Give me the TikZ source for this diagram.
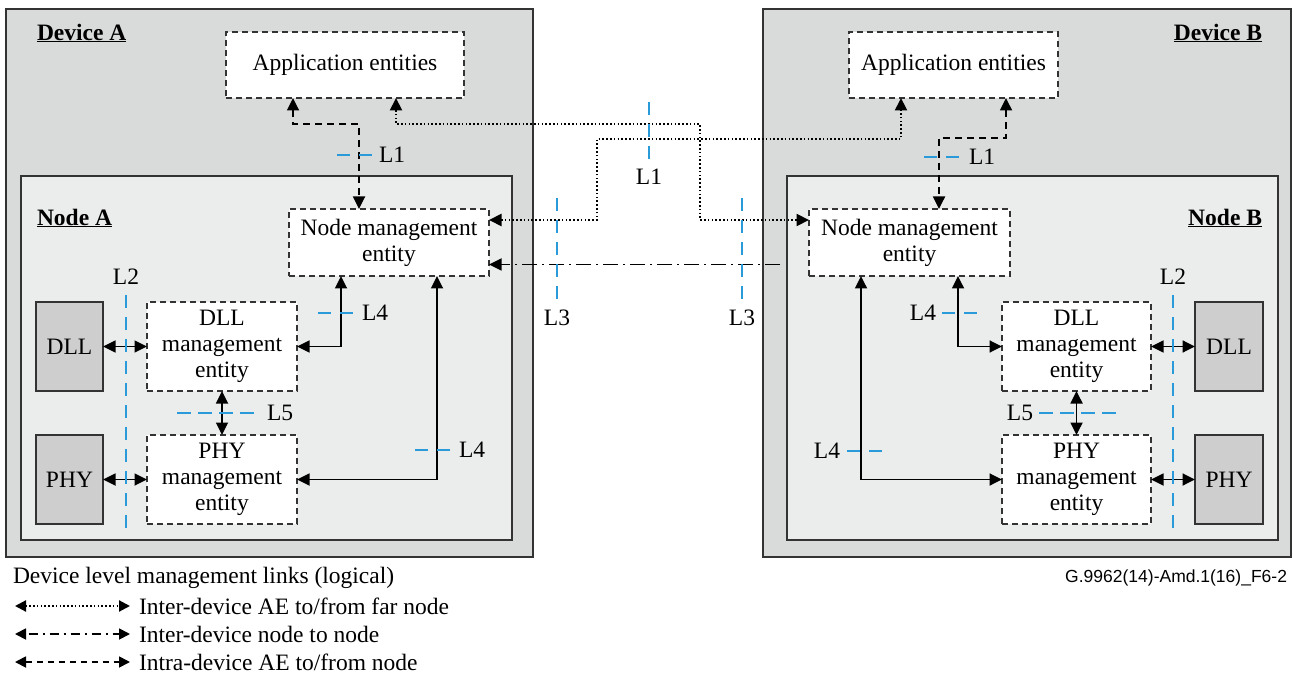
\documentclass[tikz,border=0pt]{standalone}
\usepackage{fontspec}
\setmainfont{Liberation Serif}
\newfontfamily\arialf{Liberation Sans}
\usetikzlibrary{arrows.meta}
\definecolor{devfill}{HTML}{D9DADA}
\definecolor{nodefill}{HTML}{EBECEC}
\definecolor{layfill}{HTML}{CDCECD}
\definecolor{bord}{HTML}{333333}
\definecolor{lblue}{HTML}{2A9BD8}
\tikzset{
  tipa/.tip={Triangle[length=12.5pt,width=12pt]},
  tipl/.tip={Triangle[length=11pt,width=11pt]},
}
\begin{document}
\begin{tikzpicture}[x=1pt,y=-1pt,
  every node/.style={font=\fontsize{23.5}{26}\selectfont, inner sep=0pt, outer sep=0pt},
  devbox/.style={draw=bord, line width=1.6pt, fill=devfill},
  nodebox/.style={draw=bord, line width=1.6pt, fill=nodefill},
  laybox/.style={draw=bord, line width=1.6pt, fill=layfill},
  entbox/.style={draw=bord, line width=1.5pt, dash pattern=on 6pt off 4pt, fill=white, align=center},
  solidc/.style={line width=1.8pt, black, tipa-tipa},
  dashc/.style={line width=1.8pt, black, dash pattern=on 7pt off 5pt},
  dotc/.style={line width=2.1pt, black, dash pattern=on 1.6pt off 2.2pt},
  dashdotc/.style={line width=1.8pt, black, dash pattern=on 15pt off 5pt on 2pt off 5pt},
  bluemark/.style={line width=1.6pt, lblue, dash pattern=on 13pt off 9pt},
]
\useasboundingbox (0,0) rectangle (1293,676);

% devices and nodes
\node[devbox, minimum width=527pt, minimum height=548pt] (devA) at (269.5,283) {};
\node[devbox, minimum width=528pt, minimum height=548pt] (devB) at (1027,283) {};
\node[nodebox, minimum width=491pt, minimum height=364pt] (nodeA) at (266.5,358) {};
\node[nodebox, minimum width=491pt, minimum height=364pt] (nodeB) at (1032.5,358) {};

\node[anchor=west] (devAl) at (37,33) {\underline{\textbf{Device A}}};
\node[anchor=east] (devBl) at (1262,33) {\underline{\textbf{Device B}}};
\node[anchor=west] (nodeAl) at (37,218) {\underline{\textbf{Node A}}};
\node[anchor=east] (nodeBl) at (1262,218) {\underline{\textbf{Node B}}};

% entity boxes
\node[entbox, minimum width=238pt, minimum height=66pt] (appA) at (345,65) {Application entities};
\node[entbox, minimum width=209pt, minimum height=66pt] (appB) at (953.5,65) {Application entities};
\node[entbox, minimum width=200pt, minimum height=67pt] (nmA) at (389,242.5) {Node management\\entity};
\node[entbox, minimum width=201pt, minimum height=67pt] (nmB) at (909.5,242.5) {Node management\\entity};
\node[entbox, minimum width=150pt, minimum height=89pt] (dllmA) at (222,346.5) {DLL\\management\\entity};
\node[entbox, minimum width=150pt, minimum height=89pt] (phymA) at (222,479.5) {PHY\\management\\entity};
\node[entbox, minimum width=149pt, minimum height=89pt] (dllmB) at (1076.5,346.5) {DLL\\management\\entity};
\node[entbox, minimum width=149pt, minimum height=89pt] (phymB) at (1076.5,479.5) {PHY\\management\\entity};
\node[laybox, minimum width=67pt, minimum height=89pt] (dllA) at (69.5,346.5) {DLL};
\node[laybox, minimum width=67pt, minimum height=89pt] (phyA) at (69.5,479.5) {PHY};
\node[laybox, minimum width=68pt, minimum height=89pt] (dllB) at (1229,346.5) {DLL};
\node[laybox, minimum width=68pt, minimum height=89pt] (phyB) at (1229,479.5) {PHY};

% solid links inside nodes
\draw[solidc] (dllA) -- (dllmA);
\draw[solidc] (phyA) -- (phymA);
\draw[solidc] (dllmA) -- (phymA);
\draw[solidc] (dllmA.east) -| ([xshift=-48pt]nmA.south);
\draw[solidc] (phymA.east) -| ([xshift=48pt]nmA.south);
\draw[solidc] (dllB) -- (dllmB);
\draw[solidc] (phyB) -- (phymB);
\draw[solidc] (dllmB) -- (phymB);
\draw[solidc] (dllmB.west) -| ([xshift=48.5pt]nmB.south);
\draw[solidc] (phymB.west) -| ([xshift=-48.5pt]nmB.south);

% intra-device dashed
\draw[dashc, tipa-tipa] ([xshift=-52pt]appA.south) -- ++(0,26) -| ([xshift=-30pt]nmA.north);
\draw[dashc, tipa-tipa] ([xshift=52.5pt]appB.south) -- ++(0,40) -| ([xshift=29.5pt]nmB.north);

% inter-device dotted
\draw[dotc, tipa-tipa] ([xshift=51pt]appA.south) -- ++(0,26) -- ++(304,0) |- ([yshift=22.5pt]nmB.west);
\draw[dotc, tipa-tipa] ([yshift=22.5pt]nmA.east) -- ++(108,0) -- ++(0,-81) -| ([xshift=-52.5pt]appB.south);

% inter-device node to node
\draw[dashdotc, -tipa, shorten <=29pt] ([yshift=-22pt]nmB.west) -- ([yshift=-22pt]nmA.east);

% blue reference points
\draw[bluemark] (337,155) -- (374,155);
\node[anchor=west] (l1a) at (379,155) {L1};
\draw[bluemark] (924,157) -- (961,157);
\node[anchor=west] (l1b) at (969,157) {L1};
\draw[bluemark] (649,102) -- (649,162);
\node (l1c) at (649,177) {L1};
\draw[bluemark] (557,198) -- (557,302);
\node (l3a) at (557,318) {L3};
\draw[bluemark] (742,198) -- (742,302);
\node (l3b) at (742,318) {L3};
\draw[bluemark] (126,295) -- (126,532);
\node (l2a) at (126,277) {L2};
\draw[bluemark] (1173,295) -- (1173,532);
\node (l2b) at (1173,277) {L2};
\draw[bluemark] (318,313) -- (355,313);
\node[anchor=west] (l4a) at (362,313) {L4};
\draw[bluemark] (415,450) -- (452,450);
\node[anchor=west] (l4b) at (459,450) {L4};
\draw[bluemark, dash pattern=on 14pt off 7pt] (177,413) -- (259,413);
\node[anchor=west] (l5a) at (267,413) {L5};
\draw[bluemark] (942,313) -- (980,313);
\node[anchor=east] (l4c) at (936,313) {L4};
\draw[bluemark, dash pattern=on 14pt off 7pt] (1039,413) -- (1121,413);
\node[anchor=east] (l5b) at (1033,413) {L5};
\draw[bluemark] (847,451) -- (883,451);
\node[anchor=east] (l4d) at (840,451) {L4};

% legend
\node[anchor=west] (lgt) at (13,578) {Device level management links (logical)};
\coordinate (lg1a) at (15,606); \coordinate (lg1b) at (130,606);
\draw[dotc, tipl-tipl] (lg1a) -- (lg1b);
\node[anchor=west] (lg1) at (139,606) {Inter-device AE to/from far node};
\coordinate (lg2a) at (15,634); \coordinate (lg2b) at (130,634);
\draw[line width=1.8pt, dash pattern=on 9pt off 5pt on 2pt off 5pt, dash phase=-3pt, tipl-tipl] (lg2a) -- (lg2b);
\node[anchor=west] (lg2) at (139,634) {Inter-device node to node};
\coordinate (lg3a) at (15,662); \coordinate (lg3b) at (130,662);
\draw[line width=1.8pt, dash pattern=on 6pt off 5pt, tipl-tipl] (lg3a) -- (lg3b);
\node[anchor=west] (lg3) at (139,662) {Intra-device AE to/from node};

\node[anchor=east, font=\arialf\fontsize{17.5}{20}\selectfont] (code) at (1287,578) {G.9962(14)-Amd.1(16)\_F6-2};
\end{tikzpicture}
\end{document}
